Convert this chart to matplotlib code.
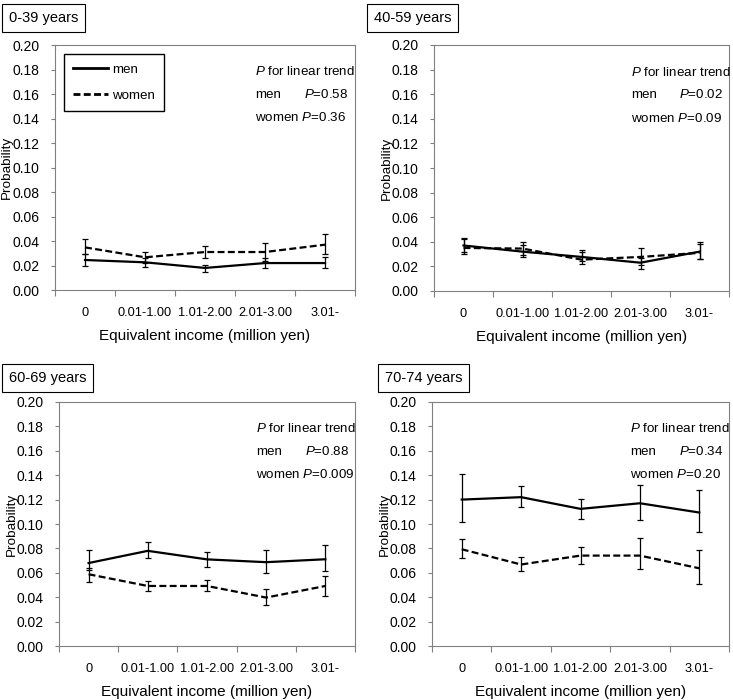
import matplotlib
matplotlib.use("Agg")
import matplotlib.pyplot as plt
from matplotlib.lines import Line2D

plt.rcParams.update({
    "font.family": ["Liberation Sans", "DejaVu Sans"],
    "font.size": 9.6,
    "lines.scale_dashes": False,
    "mathtext.fontset": "custom",
    "mathtext.rm": "Liberation Sans",
    "mathtext.it": "Liberation Sans:italic",
})

categories = ["0", "0.01-1.00", "1.01-2.00", "2.01-3.00", "3.01-"]
panel_titles = ["0-39 years", "40-59 years", "60-69 years", "70-74 years"]

# point estimates
men = [
    [0.0245, 0.0226, 0.018, 0.022, 0.022],
    [0.037, 0.032, 0.0277, 0.023, 0.032],
    [0.068, 0.078, 0.071, 0.0687, 0.0711],
    [0.120, 0.122, 0.1124, 0.117, 0.1094],
]
women = [
    [0.0348, 0.0267, 0.031, 0.031, 0.037],
    [0.035, 0.0345, 0.0255, 0.0277, 0.031],
    [0.0588, 0.0492, 0.0492, 0.0397, 0.0492],
    [0.0793, 0.0668, 0.0741, 0.0741, 0.0637],
]
# 95% CI bounds
men_lo = [
    [0.020, 0.019, 0.015, 0.018, 0.018],
    [0.032, 0.028, 0.024, 0.018, 0.026],
    [0.062, 0.072, 0.065, 0.0597, 0.0613],
    [0.1015, 0.1138, 0.1045, 0.1034, 0.0933],
]
men_hi = [
    [0.029, 0.026, 0.0204, 0.026, 0.027],
    [0.043, 0.037, 0.032, 0.027, 0.038],
    [0.0785, 0.085, 0.077, 0.0785, 0.0826],
    [0.1412, 0.1308, 0.1207, 0.1319, 0.1278],
]
women_lo = [
    [0.029, 0.022, 0.026, 0.024, 0.029],
    [0.030, 0.029, 0.022, 0.021, 0.026],
    [0.0523, 0.045, 0.0454, 0.0337, 0.0413],
    [0.072, 0.0613, 0.0676, 0.063, 0.0512],
]
women_hi = [
    [0.0414, 0.031, 0.036, 0.0386, 0.046],
    [0.042, 0.040, 0.033, 0.035, 0.040],
    [0.064, 0.0536, 0.054, 0.047, 0.0577],
    [0.0873, 0.073, 0.081, 0.0884, 0.079],
]
p_men = ["0.58", "0.02", "0.88", "0.34"]
p_women = ["0.36", "0.09", "0.009", "0.20"]

W, H = 733, 700
fig = plt.figure(figsize=(W / 100, H / 100), dpi=100)

# axes boxes in pixels: left, right, top, bottom
boxes = [(55, 355, 45, 290), (434, 729, 45, 291), (59, 355, 402, 646), (432, 729, 402, 646)]
title_pos = [(9, 18), (374, 18), (9, 378), (385, 378)]

spine_col = "#808080"
dash = (0, (5, 2.4))
xs = list(range(len(categories)))


def err(v, lo, hi):
    return [[a - c for a, c in zip(v, lo)], [c - a for a, c in zip(v, hi)]]


for i, (l, r, t, b) in enumerate(boxes):
    ax = fig.add_axes([l / W, 1 - b / H, (r - l) / W, (b - t) / H])

    ax.errorbar(xs, men[i], yerr=err(men[i], men_lo[i], men_hi[i]), color="black",
                lw=1.6, elinewidth=0.9, capsize=2.5, capthick=0.9)
    ax.errorbar(xs, women[i], yerr=err(women[i], women_lo[i], women_hi[i]), color="black",
                lw=1.6, elinewidth=0.9, capsize=2.5, capthick=0.9, ls=dash)

    ax.set_xlim(-0.5, len(categories) - 0.5)
    ax.set_ylim(0, 0.2)
    ax.set_yticks([k * 0.02 for k in range(11)])
    ax.set_yticklabels([f"{k * 0.02:.2f}" for k in range(11)], fontsize=10)
    ax.set_xticks([k - 0.5 for k in range(len(categories) + 1)])
    ax.set_xticklabels([])
    ax.set_xticks(xs, minor=True)
    ax.set_xticklabels(categories, minor=True, fontsize=9.2)
    ax.tick_params(axis="x", which="major", length=4, width=0.8, color=spine_col, direction="out")
    ax.tick_params(axis="x", which="minor", length=0, pad=12)
    ax.tick_params(axis="y", length=3, width=0.8, color=spine_col, pad=8)
    for s in ax.spines.values():
        s.set_color(spine_col)
        s.set_linewidth(0.8)

    ax.set_xlabel("Equivalent income (million yen)", fontsize=11, labelpad=7.5)
    ax.set_ylabel("Probability", fontsize=9.7)
    ax.yaxis.set_label_coords(-0.14, 0.5)

    ax.text(0.667, 0.89, r"$\it{P}$ for linear trend", transform=ax.transAxes, va="center")
    ax.text(0.667, 0.797, "men", transform=ax.transAxes, va="center")
    ax.text(0.83, 0.797, r"$\it{P}$=" + p_men[i], transform=ax.transAxes, va="center")
    ax.text(0.667, 0.703, r"women $\it{P}$=" + p_women[i], transform=ax.transAxes, va="center")

    if i == 0:
        handles = [Line2D([], [], color="black", lw=2),
                   Line2D([], [], color="black", lw=2, ls=dash)]
        ax.legend(handles, ["men", "women"], loc="upper left", bbox_to_anchor=(0.03, 0.963),
                  fancybox=False, edgecolor="black", framealpha=1, handlelength=2.6,
                  borderpad=0.7, labelspacing=1.05, handletextpad=0.3, borderaxespad=0)

    tx, ty = title_pos[i]
    fig.text(tx / W, 1 - ty / H, panel_titles[i], ha="left", va="center", fontsize=10.5,
             bbox=dict(boxstyle="square,pad=0.45", fc="white", ec="black", lw=0.8))

fig.savefig("out.png", dpi=100)
